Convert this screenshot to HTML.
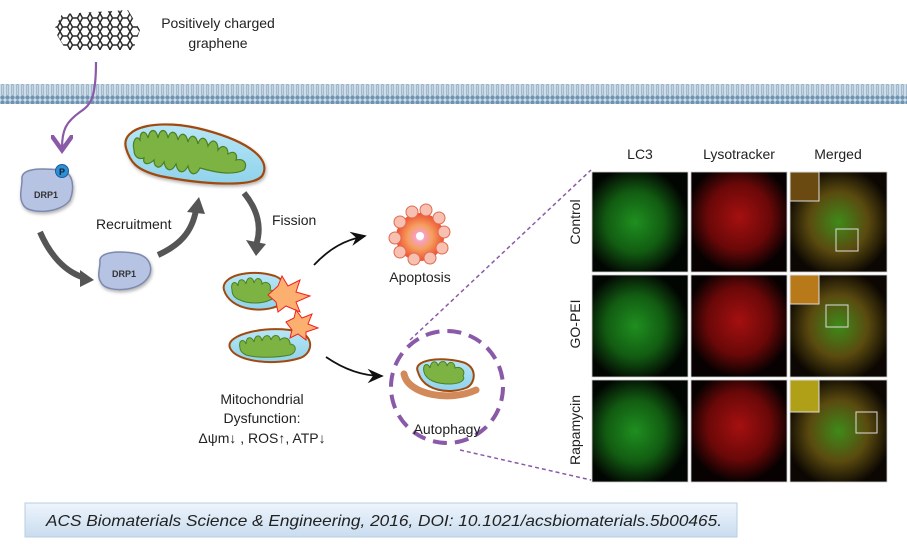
<!DOCTYPE html>
<html><head><meta charset="utf-8">
<style>
html,body{margin:0;padding:0;background:#fff;}
body{width:907px;height:544px;overflow:hidden;position:relative;font-family:"Liberation Sans",sans-serif;}
svg{position:absolute;left:0;top:0;}
.t{font-family:"Liberation Sans",sans-serif;fill:#222;}
</style></head><body>
<svg width="907" height="544" viewBox="0 0 907 544">
<defs>
<pattern id="mem" x="0" y="0" width="5" height="20" patternUnits="userSpaceOnUse">
<rect width="5" height="20" fill="#cfdde9"/>
<circle cx="2.5" cy="2.5" r="2.2" fill="#6f94b2"/>
<circle cx="2.5" cy="17.5" r="2.2" fill="#6f94b2"/>
<line x1="1.7" y1="5" x2="1.7" y2="15" stroke="#8eaac2" stroke-width="0.8"/>
<line x1="3.3" y1="5" x2="3.3" y2="15" stroke="#8eaac2" stroke-width="0.8"/>
</pattern>
<pattern id="hex" width="10" height="9" patternUnits="userSpaceOnUse">
<path d="M0 4.5 L2.5 0 L7.5 0 L10 4.5 L7.5 9 L2.5 9 Z" fill="none" stroke="#2a2a2a" stroke-width="1.5"/>
</pattern>
<radialGradient id="apo" cx="50%" cy="50%" r="50%"><stop offset="0" stop-color="#fff"/><stop offset="0.2" stop-color="#f7a0c0"/><stop offset="0.5" stop-color="#f5a060"/><stop offset="1" stop-color="#f05030"/></radialGradient>
<linearGradient id="cite" x1="0" y1="0" x2="0" y2="1"><stop offset="0" stop-color="#eef5fc"/><stop offset="1" stop-color="#c9dcef"/></linearGradient>
<linearGradient id="cyt" x1="0" y1="0" x2="0" y2="1"><stop offset="0" stop-color="#b8e6f6"/><stop offset="1" stop-color="#8fd3ec"/></linearGradient>
<marker id="ah" markerWidth="10" markerHeight="10" refX="8" refY="5" orient="auto"><path d="M0 1 L9 5 L0 9 L3 5Z" fill="#111"/></marker>
<marker id="ahp" markerWidth="10" markerHeight="10" refX="6" refY="5" orient="auto"><path d="M0 0 L7 5 L0 10" fill="none" stroke="#8a5aa8" stroke-width="2"/></marker>
<filter id="sh" x="-10%" y="-10%" width="130%" height="140%"><feDropShadow dx="1" dy="2" stdDeviation="1.5" flood-color="#000" flood-opacity="0.3"/></filter>
</defs>

<!-- graphene -->
<polygon points="62,14 128,10 140,30 133,50 66,50 54,30" fill="url(#hex)"/>
<text class="t" x="218" y="28" font-size="14" text-anchor="middle">Positively charged</text>
<text class="t" x="218" y="48" font-size="14" text-anchor="middle">graphene</text>

<!-- membrane -->
<rect x="0" y="84" width="907" height="20" fill="url(#mem)"/>

<!-- purple arrow -->
<path d="M96 62 C96 100 90 105 80 112 C66 122 62 130 62 148" fill="none" stroke="#8a5aa8" stroke-width="2.2" marker-end="url(#ahp)"/>

<!-- DRP1 top -->
<path d="M22 180 C20 168 40 168 60 170 C75 172 74 190 70 200 C60 214 30 214 24 206 C18 198 22 188 22 180Z" fill="#b7c3e3" stroke="#7d89ad" stroke-width="1.5" filter="url(#sh)"/>
<text x="46" y="198" font-size="9" font-weight="bold" fill="#333" text-anchor="middle" font-family="Liberation Sans">DRP1</text>
<circle cx="62" cy="171" r="6.5" fill="#2f8fd6" stroke="#1a5c9c"/>
<text x="62" y="175" font-size="9" font-weight="bold" fill="#123" text-anchor="middle" font-family="Liberation Sans">P</text>

<!-- DRP1 bottom -->
<path d="M100 262 C98 252 118 250 138 254 C152 258 154 272 146 280 C136 292 108 292 102 284 C96 276 100 270 100 262Z" fill="#b7c3e3" stroke="#7d89ad" stroke-width="1.5" filter="url(#sh)"/>
<text x="124" y="277" font-size="9" font-weight="bold" fill="#333" text-anchor="middle" font-family="Liberation Sans">DRP1</text>

<!-- grey arrows -->
<path d="M40 232 C50 255 65 272 85 278" fill="none" stroke="#555" stroke-width="6"/>
<polygon points="80,270 94,280 80,287" fill="#555"/>
<path d="M158 255 C180 245 192 232 196 210" fill="none" stroke="#555" stroke-width="6"/>
<polygon points="187,212 199,197 205,214" fill="#555"/>
<path d="M244 193 C258 210 262 228 256 245" fill="none" stroke="#555" stroke-width="6"/>
<polygon points="246,240 256,256 266,244" fill="#555"/>
<text class="t" x="96" y="229" font-size="14">Recruitment</text>
<text class="t" x="272" y="225" font-size="14">Fission</text>

<!-- big mito -->
<path d="M126 148 C120 126 160 118 205 130 C250 142 272 160 262 176 C252 188 200 184 160 176 C136 170 130 162 126 148Z" fill="url(#cyt)" stroke="#a04a10" stroke-width="2.2" filter="url(#sh)"/>
<path d="M134 150 C132 142 136 134 140 140 C140 130 146 130 148 138 C150 128 156 128 158 138 C160 128 166 128 168 138 C170 130 176 130 178 140 C180 132 186 132 188 142 C190 134 196 134 198 144 C200 136 206 136 208 146 C212 138 218 140 218 150 C222 144 228 146 228 154 C234 150 238 154 236 160 C244 158 248 164 244 170 C232 176 214 172 200 168 C196 176 190 176 188 166 C184 174 178 174 176 164 C172 172 166 172 164 162 C160 170 154 168 154 160 C148 166 142 164 144 158 C138 160 134 156 134 150Z" fill="#7cb342" stroke="#4d7f25" stroke-width="1.2"/>

<!-- small mitos -->
<path d="M224 290 C220 276 250 268 275 276 C290 282 290 300 280 305 C262 314 230 310 224 290Z" fill="url(#cyt)" stroke="#a04a10" stroke-width="2"/>
<path d="M232 290 C230 282 236 280 238 286 C238 278 244 278 246 284 C247 276 253 276 254 283 C256 276 262 278 262 284 C266 280 272 284 270 290 C276 290 278 298 270 300 C262 304 248 304 240 300 C234 298 232 294 232 290Z" fill="#7cb342" stroke="#4d7f25"/>
<polygon points="268,295 278,286 282,276 288,286 300,280 296,292 310,296 296,302 300,312 286,306 278,312 276,302" fill="#fbb070" stroke="#f02020"/>
<path d="M230 348 C224 334 270 324 300 332 C315 338 312 354 300 358 C275 366 236 362 230 348Z" fill="url(#cyt)" stroke="#a04a10" stroke-width="2"/>
<path d="M240 348 C238 340 244 338 246 344 C246 336 252 336 254 342 C255 334 261 334 262 341 C264 334 270 334 271 340 C273 334 279 334 280 340 C284 336 290 338 290 344 C296 344 298 352 290 355 C276 358 256 358 246 355 C242 353 240 351 240 348Z" fill="#7cb342" stroke="#4d7f25"/>
<polygon points="286,322 294,318 296,310 302,318 312,314 308,324 318,328 306,332 306,340 298,334 290,338 292,330" fill="#fbb070" stroke="#f02020"/>

<!-- black arrows -->
<path d="M314 265 C330 248 345 240 365 236" fill="none" stroke="#111" stroke-width="1.8" marker-end="url(#ah)"/>
<path d="M326 357 C342 368 360 376 382 376" fill="none" stroke="#111" stroke-width="1.8" marker-end="url(#ah)"/>

<!-- apoptosis -->
<circle cx="420" cy="237" r="24" fill="url(#apo)"/>
<g fill="#f8c0b0" stroke="#e06a50" stroke-width="1">
<circle cx="400" cy="222" r="6"/><circle cx="412" cy="212" r="6"/><circle cx="426" cy="210" r="6"/><circle cx="439" cy="218" r="6"/><circle cx="444" cy="232" r="6"/><circle cx="442" cy="248" r="6"/><circle cx="430" cy="258" r="6"/><circle cx="414" cy="259" r="6"/><circle cx="400" cy="252" r="6"/><circle cx="395" cy="238" r="6"/>
</g>
<circle cx="420" cy="236" r="4" fill="#fff"/>
<text class="t" x="420" y="282" font-size="14" text-anchor="middle">Apoptosis</text>

<!-- mito dysfunction text -->
<text class="t" x="262" y="404" font-size="14" text-anchor="middle">Mitochondrial</text>
<text class="t" x="262" y="423" font-size="14" text-anchor="middle">Dysfunction:</text>
<text class="t" x="262" y="443" font-size="14" text-anchor="middle">Δψm↓ , ROS↑, ATP↓</text>

<!-- autophagy -->
<line x1="410" y1="340" x2="591" y2="170" stroke="#8a5aa8" stroke-width="1.5" stroke-dasharray="4,3"/>
<line x1="460" y1="450" x2="591" y2="480" stroke="#8a5aa8" stroke-width="1.5" stroke-dasharray="4,3"/>
<circle cx="447" cy="387" r="56" fill="#fff" stroke="#8a5aa8" stroke-width="4" stroke-dasharray="14,8"/>
<path d="M418 372 C412 360 440 356 462 362 C478 366 476 384 466 388 C450 394 424 392 418 372Z" fill="url(#cyt)" stroke="#a04a10" stroke-width="2"/>
<path d="M424 372 C422 364 428 362 430 368 C431 360 437 360 438 366 C440 360 446 360 447 366 C449 360 455 362 455 368 C460 366 466 370 463 376 C466 380 460 384 450 384 C436 384 426 380 424 372Z" fill="#7cb342" stroke="#4d7f25"/>
<path d="M404 374 C408 395 450 402 476 390" fill="none" stroke="#d28a5a" stroke-width="7" stroke-linecap="round"/>
<text class="t" x="447" y="434" font-size="14" text-anchor="middle">Autophagy</text>

<!-- micrograph panel -->
<text class="t" x="640" y="159" font-size="14" text-anchor="middle">LC3</text>
<text class="t" x="739" y="159" font-size="14" text-anchor="middle">Lysotracker</text>
<text class="t" x="838" y="159" font-size="14" text-anchor="middle">Merged</text>
<text class="t" font-size="14" text-anchor="middle" transform="translate(580,222) rotate(-90)">Control</text>
<text class="t" font-size="14" text-anchor="middle" transform="translate(580,324) rotate(-90)">GO-PEI</text>
<text class="t" font-size="14" text-anchor="middle" transform="translate(580,430) rotate(-90)">Rapamycin</text>
<defs>
<radialGradient id="g1" cx="45%" cy="50%" r="55%"><stop offset="0" stop-color="#1f8f1f"/><stop offset="0.55" stop-color="#125c12"/><stop offset="1" stop-color="#020602"/></radialGradient>
<radialGradient id="r1" cx="50%" cy="45%" r="55%"><stop offset="0" stop-color="#a51010"/><stop offset="0.6" stop-color="#6a0808"/><stop offset="1" stop-color="#080101"/></radialGradient>
<radialGradient id="m1" cx="50%" cy="50%" r="55%"><stop offset="0" stop-color="#3f8a1a"/><stop offset="0.55" stop-color="#5a4a0f"/><stop offset="1" stop-color="#0c0702"/></radialGradient>
</defs>
<g stroke="#ccc" stroke-width="0.8">
<rect x="592" y="172" width="96" height="100" fill="url(#g1)"/>
<rect x="691" y="172" width="96" height="100" fill="url(#r1)"/>
<rect x="790" y="172" width="97" height="100" fill="url(#m1)"/>
<rect x="592" y="275" width="96" height="102" fill="url(#g1)"/>
<rect x="691" y="275" width="96" height="102" fill="url(#r1)"/>
<rect x="790" y="275" width="97" height="102" fill="url(#m1)"/>
<rect x="592" y="380" width="96" height="102" fill="url(#g1)"/>
<rect x="691" y="380" width="96" height="102" fill="url(#r1)"/>
<rect x="790" y="380" width="97" height="102" fill="url(#m1)"/>
</g>
<g stroke="#ddd" stroke-width="1" fill="none">
<rect x="790" y="172" width="29" height="29" fill="#6a4a10"/>
<rect x="836" y="229" width="22" height="22"/>
<rect x="790" y="275" width="29" height="29" fill="#b87a18"/>
<rect x="826" y="305" width="22" height="22"/>
<rect x="790" y="380" width="29" height="32" fill="#b0a018"/>
<rect x="856" y="412" width="21" height="21"/>
</g>

<!-- citation -->
<rect x="25" y="503" width="712" height="34" fill="url(#cite)" stroke="#b8cde2"/>
<text x="46" y="526" font-size="16" font-style="italic" fill="#222" font-family="Liberation Sans" textLength="676" lengthAdjust="spacingAndGlyphs">ACS Biomaterials Science &amp; Engineering, 2016, DOI: 10.1021/acsbiomaterials.5b00465.</text>
</svg>
</body></html>
